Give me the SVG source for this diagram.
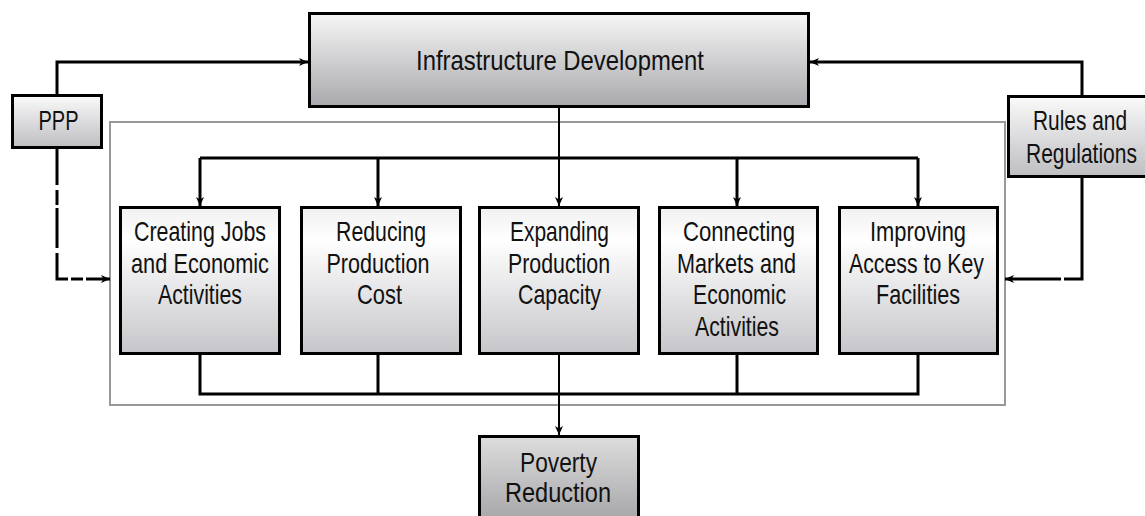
<svg xmlns="http://www.w3.org/2000/svg" width="1145" height="516" viewBox="0 0 1145 516">
<defs>
<linearGradient id="gTop" x1="0" y1="0" x2="0" y2="1">
<stop offset="0" stop-color="#f6f6f6"/><stop offset="1" stop-color="#a9a9ad"/>
</linearGradient>
<linearGradient id="gBox" x1="0" y1="0" x2="0" y2="1">
<stop offset="0" stop-color="#f0f0f0"/><stop offset="0.22" stop-color="#ffffff"/><stop offset="1" stop-color="#c6c6ca"/>
</linearGradient>
<linearGradient id="gSide" x1="0" y1="0" x2="0" y2="1">
<stop offset="0" stop-color="#fafafa"/><stop offset="1" stop-color="#bebec2"/>
</linearGradient>
<linearGradient id="gPov" x1="0" y1="0" x2="0" y2="1">
<stop offset="0" stop-color="#dddddd"/><stop offset="1" stop-color="#9c9ca0"/>
</linearGradient>
<marker id="ah" markerUnits="userSpaceOnUse" markerWidth="9" markerHeight="9" refX="9" refY="4.5" orient="auto">
<path d="M0,0.5 L9,4.5 L0,8.5 L2.5,4.5 z" fill="#000"/>
</marker>
<style>
.box{stroke:#000;stroke-width:3}
.t{font-family:"Liberation Sans Narrow","Liberation Sans",Arial,sans-serif;font-size:28px;fill:#111;text-anchor:middle}
.c{fill:none;stroke:#000;stroke-width:3}
.thin{fill:none;stroke:#000;stroke-width:2}
.frame{fill:none;stroke:#999;stroke-width:2}
</style>
</defs>
<rect width="1145" height="516" fill="#fff"/>

<rect class="frame" x="110" y="122" width="895" height="283"/>

<g id="connectors">
<path class="c" d="M57,94 V62 H308" marker-end="url(#ah)"/>
<path class="c" d="M1082,95 V62 H810" marker-end="url(#ah)"/>
<path class="thin" d="M559,107 V206" marker-end="url(#ah)"/>
<path class="c" d="M200,158 H918"/>
<path class="c" d="M200,158 V206" marker-end="url(#ah)"/>
<path class="c" d="M378,158 V206" marker-end="url(#ah)"/>
<path class="c" d="M737,158 V206" marker-end="url(#ah)"/>
<path class="c" d="M918,158 V206" marker-end="url(#ah)"/>
<path class="c" d="M200,354 V394 H918 V354"/>
<path class="c" d="M378,354 V394"/>
<path class="c" d="M737,354 V394"/>
<path class="thin" d="M559,354 V435" marker-end="url(#ah)"/>
<path class="c" d="M1082,178 V279 H1064"/>
<path class="c" d="M1061,279 H1005" marker-end="url(#ah)"/>
<path class="c" d="M57,148 V185 M57,190 V205 M57,208 V248 M57,253 V279 H68 M71,279 H83 M86,279 H110" marker-end="url(#ah)"/>
</g>

<g id="infrastructure">
<rect class="box" x="309.5" y="13.5" width="499" height="93" fill="url(#gTop)"/>
<text class="t" x="560" y="70" textLength="288" lengthAdjust="spacingAndGlyphs">Infrastructure Development</text>
</g>

<g id="ppp">
<rect class="box" x="12.5" y="95.5" width="89" height="52" fill="url(#gSide)"/>
<text class="t" x="58.5" y="130" textLength="40" lengthAdjust="spacingAndGlyphs">PPP</text>
</g>

<g id="rules">
<rect class="box" x="1008.5" y="96.5" width="140" height="80" fill="url(#gSide)"/>
<text class="t" x="1080" y="130" textLength="94" lengthAdjust="spacingAndGlyphs">Rules and</text>
<text class="t" x="1081.5" y="163" textLength="111" lengthAdjust="spacingAndGlyphs">Regulations</text>
</g>

<g id="jobs">
<rect class="box" x="120.5" y="207.5" width="159" height="146" fill="url(#gBox)"/>
<text class="t" x="200" y="241" textLength="132" lengthAdjust="spacingAndGlyphs">Creating Jobs</text>
<text class="t" x="200" y="273" textLength="138" lengthAdjust="spacingAndGlyphs">and Economic</text>
<text class="t" x="200" y="304" textLength="84" lengthAdjust="spacingAndGlyphs">Activities</text>
</g>

<g id="cost">
<rect class="box" x="301.5" y="207.5" width="159" height="146" fill="url(#gBox)"/>
<text class="t" x="381" y="241" textLength="90" lengthAdjust="spacingAndGlyphs">Reducing</text>
<text class="t" x="378" y="273" textLength="103" lengthAdjust="spacingAndGlyphs">Production</text>
<text class="t" x="379.5" y="304" textLength="45" lengthAdjust="spacingAndGlyphs">Cost</text>
</g>

<g id="capacity">
<rect class="box" x="479.5" y="207.5" width="159" height="146" fill="url(#gBox)"/>
<text class="t" x="559.5" y="241" textLength="99" lengthAdjust="spacingAndGlyphs">Expanding</text>
<text class="t" x="559" y="273" textLength="102" lengthAdjust="spacingAndGlyphs">Production</text>
<text class="t" x="559.5" y="304" textLength="83" lengthAdjust="spacingAndGlyphs">Capacity</text>
</g>

<g id="markets">
<rect class="box" x="659.5" y="207.5" width="158" height="146" fill="url(#gBox)"/>
<text class="t" x="739" y="241" textLength="112" lengthAdjust="spacingAndGlyphs">Connecting</text>
<text class="t" x="736.5" y="273" textLength="119" lengthAdjust="spacingAndGlyphs">Markets and</text>
<text class="t" x="739.5" y="304" textLength="93" lengthAdjust="spacingAndGlyphs">Economic</text>
<text class="t" x="737" y="336" textLength="84" lengthAdjust="spacingAndGlyphs">Activities</text>
</g>

<g id="facilities">
<rect class="box" x="839.5" y="207.5" width="158" height="146" fill="url(#gBox)"/>
<text class="t" x="918" y="241" textLength="96" lengthAdjust="spacingAndGlyphs">Improving</text>
<text class="t" x="916.5" y="273" textLength="135" lengthAdjust="spacingAndGlyphs">Access to Key</text>
<text class="t" x="918" y="304" textLength="84" lengthAdjust="spacingAndGlyphs">Facilities</text>
</g>

<g id="poverty">
<rect class="box" x="479.5" y="436.5" width="159" height="100" fill="url(#gPov)"/>
<text class="t" x="558.5" y="472" textLength="77" lengthAdjust="spacingAndGlyphs">Poverty</text>
<text class="t" x="558" y="502" textLength="106" lengthAdjust="spacingAndGlyphs">Reduction</text>
</g>
</svg>
